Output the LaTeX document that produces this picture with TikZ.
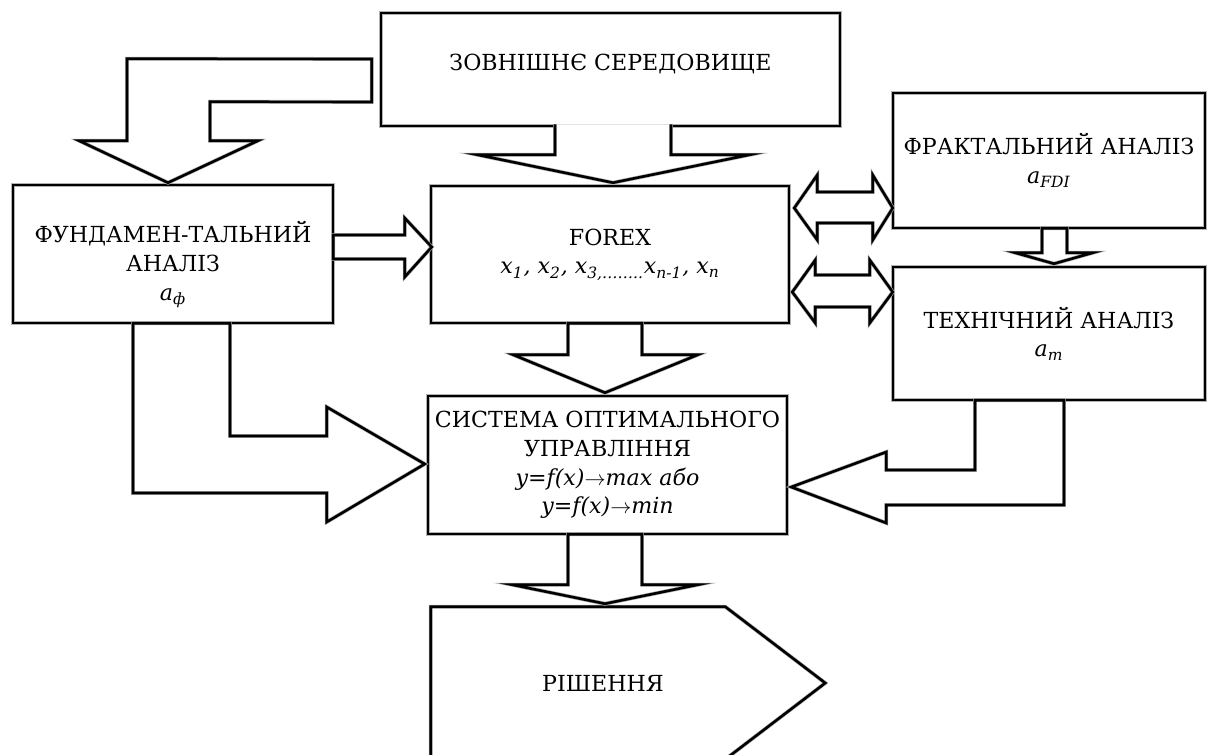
\documentclass[tikz,border=0pt]{standalone}
\usepackage{fontspec}
\setmainfont{DejaVu Serif}
\usetikzlibrary{calc}

\begin{document}
\begin{tikzpicture}[x=0.02cm, y=-0.02cm]
\tikzstyle{myline} = [draw=gray!60, double=black, line width=0.35pt, double distance=1.5pt, fill=white, line join=miter]
\tikzstyle{mybox} = [myline, rectangle, align=center, inner sep=1pt, font=\fontsize{12.6}{16.4}\selectfont]

\useasboundingbox (0,0) rectangle (1209,754);

% blocks
\node[mybox, minimum width=9.18cm, minimum height=2.26cm, text depth=8pt] (env) at (610.5,69.5) {ЗОВНІШНЄ СЕРЕДОВИЩЕ};
\node[mybox, minimum width=6.4cm, minimum height=2.76cm, text height=57pt] (fund) at (173,254)
	{ФУНДАМЕН-ТАЛЬНИЙ\\ АНАЛІЗ\\ \textit{a}\textsubscript{\textit{ф}}};
\node[mybox, minimum width=7.16cm, minimum height=2.74cm] (forex) at (610,254.5)
	{FOREX\\ \textit{x\textsubscript{1}, x\textsubscript{2}, x\textsubscript{3,……..}x\textsubscript{n-1}, x\textsubscript{n}}};
\node[mybox, minimum width=6.24cm, minimum height=2.7cm] (frac) at (1049,160.5)
	{ФРАКТАЛЬНИЙ АНАЛІЗ\\ \textit{a}\textsubscript{\textit{FDI}}};
\node[mybox, minimum width=6.24cm, minimum height=2.66cm] (tech) at (1049,333.5)
	{ТЕХНІЧНИЙ АНАЛІЗ\\ \textit{a}\textsubscript{\textit{m}}};
\node[mybox, minimum width=7.18cm, minimum height=2.76cm] (sys) at (607.5,465)
	{СИСТЕМА ОПТИМАЛЬНОГО\\ УПРАВЛІННЯ\\ \textit{y=f(x)$\rightarrow$max або}\\ \textit{y=f(x)$\rightarrow$min}};
\node[mybox, draw=none, fill=none, minimum width=6.88cm, minimum height=3.04cm] (sol) at (603,683) {РІШЕННЯ};
\draw[myline, fill=none] (sol.north west) -- ($(sol.north east)+(-50,0)$) -- ($(sol.east)+(50,0)$)
	-- ($(sol.south east)+(-50,0)$) -- (sol.south west) -- cycle;

% block arrows
\draw[myline] ($(env.south)+(-55.5,-2)$) -- ($(forex.north)+(-55,-31)$) -- ($(forex.north)+(-133,-31)$)
	-- ($(forex.north)+(3,-3)$) -- ($(forex.north)+(140,-31)$) -- ($(forex.north)+(61,-31)$)
	-- ($(env.south)+(60.5,-2)$);
\draw[myline] ($(env.west)+(-9,-10.5)$) -- ($(fund.north)+(-46,-126)$) -- ($(fund.north)+(-46,-44)$)
	-- ($(fund.north)+(-94,-44)$) -- ($(fund.north)+(-5,-2)$) -- ($(fund.north)+(85,-44)$)
	-- ($(fund.north)+(37,-44)$) -- ($(fund.north)+(37,-83)$) -- ($(env.west)+(-9,32.5)$) -- cycle;
\draw[myline] ($(fund.east)+(0,-19)$) -- ($(forex.west)+(-26,-19.5)$) -- ($(forex.west)+(-26,-36.5)$)
	-- ($(forex.west)+(1,-7.5)$) -- ($(forex.west)+(-26,22.5)$) -- ($(forex.west)+(-26,4.5)$)
	-- ($(fund.east)+(0,5)$) -- cycle;
\draw[myline] ($(forex.east)+(5,-46.5)$) -- ($(forex.east)+(28,-79.5)$) -- ($(forex.east)+(28,-62.5)$)
	-- ($(frac.west)+(-20,31.5)$) -- ($(frac.west)+(-20,14.5)$) -- ($(frac.west)+(0,47.5)$)
	-- ($(frac.west)+(-20,79.5)$) -- ($(frac.west)+(-20,62.5)$) -- ($(forex.east)+(28,-31.5)$)
	-- ($(forex.east)+(28,-14.5)$) -- cycle;
\draw[myline] ($(forex.east)+(3,37.5)$) -- ($(forex.east)+(26,5.5)$) -- ($(forex.east)+(26,20.5)$)
	-- ($(tech.west)+(-23,-58.5)$) -- ($(tech.west)+(-23,-73.5)$) -- ($(tech.west)+(0,-41.5)$)
	-- ($(tech.west)+(-23,-10.5)$) -- ($(tech.west)+(-23,-26.5)$) -- ($(forex.east)+(26,52.5)$)
	-- ($(forex.east)+(26,68.5)$) -- cycle;
\draw[myline] ($(frac.south)+(-7,0)$) -- ($(tech.north)+(-7,-14)$) -- ($(tech.north)+(-34,-14)$)
	-- ($(tech.north)+(5,-3)$) -- ($(tech.north)+(44,-14)$) -- ($(tech.north)+(18,-14)$)
	-- ($(frac.south)+(18,0)$) -- cycle;
\draw[myline] ($(forex.south)+(-42,0)$) -- ($(sys.north)+(-39.5,-41)$) -- ($(sys.north)+(-94.5,-41)$)
	-- ($(sys.north)+(-2.5,-3)$) -- ($(sys.north)+(90.5,-41)$) -- ($(sys.north)+(34.5,-41)$)
	-- ($(forex.south)+(32,0)$) -- cycle;
\draw[myline] ($(sys.south)+(-39.5,0)$) -- ($(sol.north)+(-35,-22)$) -- ($(sol.north)+(-91,-22)$)
	-- ($(sol.north)+(2,-3)$) -- ($(sol.north)+(95,-22)$) -- ($(sol.north)+(39,-22)$)
	-- ($(sys.south)+(34.5,0)$) -- cycle;
\draw[myline] ($(fund.south)+(-40,0)$) -- ($(fund.south |- sys.west)+(-40,28)$) -- ($(sys.west)+(-101,28)$)
	-- ($(sys.west)+(-101,57)$) -- ($(sys.west)+(-3,-1)$) -- ($(sys.west)+(-101,-58)$)
	-- ($(sys.west)+(-101,-29)$) -- ($(fund.south |- sys.west)+(57,-29)$) -- ($(fund.south)+(57,0)$) -- cycle;
\draw[myline] ($(tech.south)+(-74,0)$) -- ($(tech.south |- sys.east)+(-74,5)$) -- ($(sys.east)+(99,5)$)
	-- ($(sys.east)+(99,-13)$) -- ($(sys.east)+(4,22)$) -- ($(sys.east)+(99,58)$)
	-- ($(sys.east)+(99,40)$) -- ($(tech.south |- sys.east)+(15,40)$) -- ($(tech.south)+(15,0)$) -- cycle;
\end{tikzpicture}
\end{document}
